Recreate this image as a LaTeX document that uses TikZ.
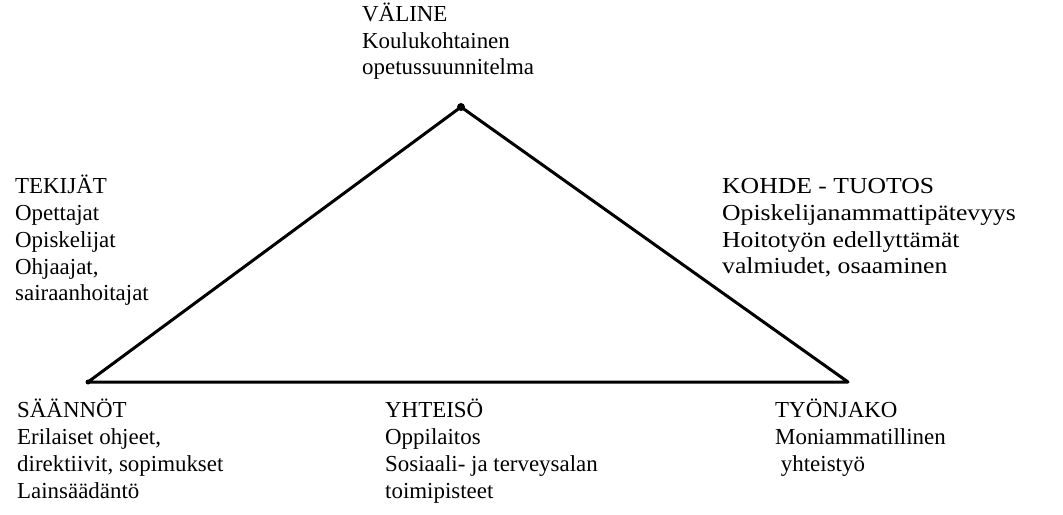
\documentclass[tikz,border=0pt]{standalone}
\usepackage{fontspec}
\setmainfont{Liberation Serif}
\usetikzlibrary{positioning}

% the labels are placed by the baseline of their last line
\tikzset{
  lbl/.style={anchor=base west,align=left,inner sep=0pt,font=\fontsize{23}{27}\selectfont},
  wide/.style={font=\fontsize{23}{27}\selectfont\addfontfeatures{FakeStretch=1.12}},
  side/.style={line width=3bp,line join=round}
}

\begin{document}
\begin{tikzpicture}[x=1bp,y=-1bp]
\useasboundingbox (0,0) rectangle (1063,515);
% corners of the triangle
\coordinate (top) at (461,107);
\coordinate (left) at (88,382);
\coordinate (right) at (848,382);
\draw[side] (top) -- (left) -- (right) -- cycle;
\fill (top) circle (4);
\fill (left) circle (2.5);

\node[lbl] (valine) at (362,75) {VÄLINE\\Koulukohtainen\\opetussuunnitelma};
\node[lbl] (tekijat) at (15,301) {TEKIJÄT\\Opettajat\\Opiskelijat\\Ohjaajat,\\sairaanhoitajat};
\node[lbl,wide] (kohde) at (722,274) {KOHDE - TUOTOS\\Opiskelijanammattipätevyys\\Hoitotyön edellyttämät\\valmiudet, osaaminen};
\node[lbl] (saannot) at (17,498) {SÄÄNNÖT\\Erilaiset ohjeet,\\direktiivit, sopimukset\\Lainsäädäntö};
\node[lbl] (yhteiso) at (385,498) {YHTEISÖ\\Oppilaitos\\Sosiaali- ja terveysalan\\toimipisteet};
\node[lbl] (tyonjako) at (775,471) {TYÖNJAKO\\Moniammatillinen\\\hspace{.25em}yhteistyö};
\end{tikzpicture}
\end{document}
